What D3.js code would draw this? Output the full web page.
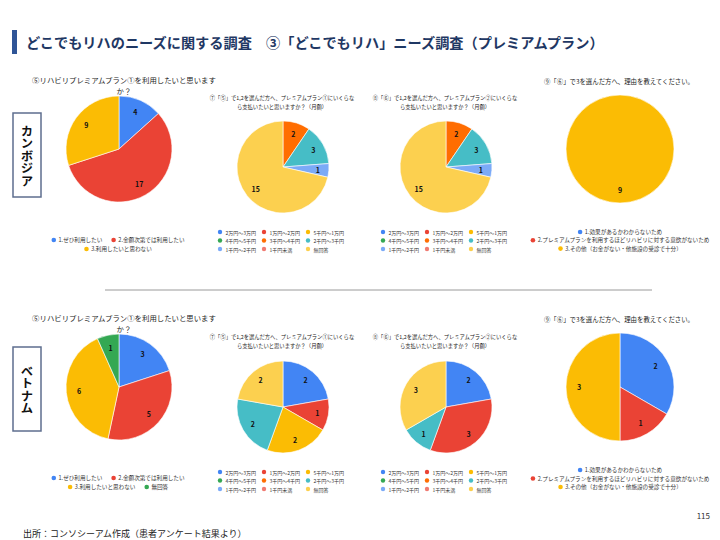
<!DOCTYPE html>
<html>
<head>
<meta charset="utf-8">
<script src="https://cdn.jsdelivr.net/npm/d3@7"></script>
<style>
body{margin:0;background:#fff}
svg{font-family:"Noto Sans CJK JP","Noto Sans",sans-serif}
</style>
</head>
<body>
<svg id="chart" width="720" height="540"></svg>
<script>
// colours used by the survey charts (google sheets palette)
const colors = ['#4285F4','#EA4335','#FBBC04','#34A853','#FF6D01','#46BDC6','#7BAAF7','#F07B72','#FCD04F']

// legend labels
const q5Labels = ['1.ぜひ利用したい','2.金額次第では利用したい','3.利用したいと思わない','無回答']
const priceLabels = ['2万円～3万円','1万円～2万円','5千円～1万円','4千円～5千円','3千円～4千円','2千円～3千円','1千円～2千円','1千円未満','無回答']
const q9Labels = ['1.効果があるかわからないため','2.プレミアムプランを利用するほどリハビリに対する意欲がないため','3.その他（お金がない・他施設の受診で十分）']

// answers, Cambodia
const q5Cambodia = [4,17,9]
const q7Cambodia = [0,0,0,0,2,3,1,0,15]
const q8Cambodia = [0,0,0,0,2,3,1,0,15]
const q9Cambodia = [0,0,9]

// answers, Vietnam
const q5Vietnam = [3,5,6,1]
const q7Vietnam = [2,1,2,0,0,2,0,0,2]
const q8Vietnam = [2,3,0,0,0,1,0,0,3]
const q9Vietnam = [2,1,3]

// question titles
const q5Title = ['⑤リハビリプレミアムプラン①を利用したいと思います','か？']
const q7Title = ['⑦「⑤」で1,2を選んだ方へ、プレミアムプラン①にいくらな','ら支払いたいと思いますか？（月額）']
const q8Title = ['⑧「⑥」で1,2を選んだ方へ、プレミアムプラン②にいくらな','ら支払いたいと思いますか？（月額）']
const q9Title = ['⑨「⑥」で3を選んだ方へ、理由を教えてください。']

const svg = d3.select('#chart')

// page header
svg.append('rect').attr('x',12).attr('y',30).attr('width',5).attr('height',24).attr('fill','#2F5597')
svg.append('text').attr('x',26).attr('y',48)
	.attr('font-size',14.2).attr('font-weight',700).attr('fill','#1F3864')
	.text('どこでもリハのニーズに関する調査　③「どこでもリハ」ニーズ調査（プレミアムプラン）')

// divider between the two countries
svg.append('line').attr('x1',105).attr('x2',652).attr('y1',290).attr('y2',290)
	.attr('stroke','#9a9a9a').attr('stroke-width',1)

// country boxes, name written vertically
function countryBox(name, y, h, textY){
	svg.append('rect').attr('x',13).attr('y',y).attr('width',28).attr('height',h)
		.attr('fill','#fff').attr('stroke','#5E6E8E').attr('stroke-width',1.5)
	svg.append('text').attr('x',27).attr('y',textY)
		.style('writing-mode','vertical-rl')
		.attr('font-size',12.4).attr('font-weight',700).attr('fill','#111')
		.text(name)
}
countryBox('カンボジア',113,84,125)
countryBox('ベトナム',347,84,365)

function drawPie(o){
	const g = svg.append('g')

	// title
	o.title.forEach((t,i)=>{
		g.append('text').attr('x',o.titleX).attr('y',o.titleY + i*o.titleLead)
			.attr('text-anchor','middle').attr('font-size',o.titleSize).attr('fill','#222')
			.text(t)
	})

	// slices
	const arcs = d3.pie().sort(null)(o.values)
	const arc = d3.arc().innerRadius(0).outerRadius(o.r)
	const labelArc = d3.arc().innerRadius(o.r*0.76).outerRadius(o.r*0.76)
	const pg = g.append('g').attr('transform',`translate(${o.cx},${o.cy})`)
	pg.selectAll('path')
		.data(arcs.filter(d=>d.value>0))
		.join('path')
		.attr('d',arc)
		.attr('fill',d=>colors[o.colorIdx[d.index]])
		.attr('stroke','#fff').attr('stroke-width',0.6)
	pg.selectAll('text')
		.data(arcs.filter(d=>d.value>0))
		.join('text')
		.attr('transform',d=>`translate(${labelArc.centroid(d)})`)
		.attr('text-anchor','middle').attr('dominant-baseline','central')
		.attr('font-size',7).attr('font-weight',700).attr('fill','#111')
		.text(d=>d.value)

	// legend
	const lg = g.append('g').attr('font-size',o.legendSize).attr('fill','#333')
	o.rows.forEach((row,ri)=>{
		const y = o.legendY + ri*o.rowH
		const items = row.map(i=>{
			const t = lg.append('text').attr('y',y).attr('dominant-baseline','central').text(o.labels[i])
			return {i:i, t:t, w:t.node().getComputedTextLength()}
		})
		if (o.colX){
			items.forEach((it,k)=>{
				const x = o.cx + o.colX[k]
				lg.append('circle').attr('cx',x).attr('cy',y).attr('r',2.2).attr('fill',colors[o.colorIdx[it.i]])
				it.t.attr('x',x+5.5)
			})
		} else {
			const total = d3.sum(items,d=>d.w+7) + (items.length-1)*9
			let x = o.legendCx - total/2
			items.forEach(it=>{
				lg.append('circle').attr('cx',x+2.3).attr('cy',y).attr('r',2.3).attr('fill',colors[o.colorIdx[it.i]])
				it.t.attr('x',x+7)
				x += it.w + 7 + 9
			})
		}
	})
}

const grid = [[0,1,2],[3,4,5],[6,7,8]]
const gridX = [-63,-19,25]
const q5Colors = [0,1,2,3]
const priceColors = [0,1,2,3,4,5,6,7,8]
const q9Colors = [0,1,2]

// ---- Cambodia ----
drawPie({cx:119, cy:149, r:53, values:q5Cambodia, colorIdx:q5Colors, labels:q5Labels,
	title:q5Title, titleX:124, titleY:83, titleSize:7.4, titleLead:10.5,
	rows:[[0,1],[2]], legendCx:118, legendY:240, rowH:9, legendSize:5.6})
drawPie({cx:283, cy:167, r:46, values:q7Cambodia, colorIdx:priceColors, labels:priceLabels,
	title:q7Title, titleX:282, titleY:100, titleSize:5.3, titleLead:9,
	rows:grid, colX:gridX, legendY:232, rowH:8.5, legendSize:5})
drawPie({cx:446, cy:167, r:46, values:q8Cambodia, colorIdx:priceColors, labels:priceLabels,
	title:q8Title, titleX:445, titleY:100, titleSize:5.3, titleLead:9,
	rows:grid, colX:gridX, legendY:232, rowH:8.5, legendSize:5})
drawPie({cx:620, cy:149, r:54, values:q9Cambodia, colorIdx:q9Colors, labels:q9Labels,
	title:q9Title, titleX:619, titleY:84, titleSize:6.4, titleLead:9,
	rows:[[0],[1],[2]], legendCx:620, legendY:232, rowH:8.3, legendSize:5.6})

// ---- Vietnam ----
drawPie({cx:119, cy:387, r:53, values:q5Vietnam, colorIdx:q5Colors, labels:q5Labels,
	title:q5Title, titleX:124, titleY:321, titleSize:7.4, titleLead:10.5,
	rows:[[0,1],[2,3]], legendCx:118, legendY:478, rowH:9, legendSize:5.6})
drawPie({cx:283, cy:407, r:46, values:q7Vietnam, colorIdx:priceColors, labels:priceLabels,
	title:q7Title, titleX:282, titleY:339, titleSize:5.3, titleLead:9,
	rows:grid, colX:gridX, legendY:472, rowH:8.5, legendSize:5})
drawPie({cx:446, cy:407, r:46, values:q8Vietnam, colorIdx:priceColors, labels:priceLabels,
	title:q8Title, titleX:445, titleY:339, titleSize:5.3, titleLead:9,
	rows:grid, colX:gridX, legendY:472, rowH:8.5, legendSize:5})
drawPie({cx:620, cy:387, r:54, values:q9Vietnam, colorIdx:q9Colors, labels:q9Labels,
	title:q9Title, titleX:619, titleY:322, titleSize:6.4, titleLead:9,
	rows:[[0],[1],[2]], legendCx:620, legendY:470, rowH:8.5, legendSize:5.6})

// footer
svg.append('text').attr('x',710).attr('y',519).attr('text-anchor','end')
	.attr('font-size',8).attr('fill','#333').text('115')
svg.append('text').attr('x',23).attr('y',537)
	.attr('font-size',9).attr('fill','#222').text('出所：コンソシーアム作成（患者アンケート結果より）')
</script>
</body>
</html>
